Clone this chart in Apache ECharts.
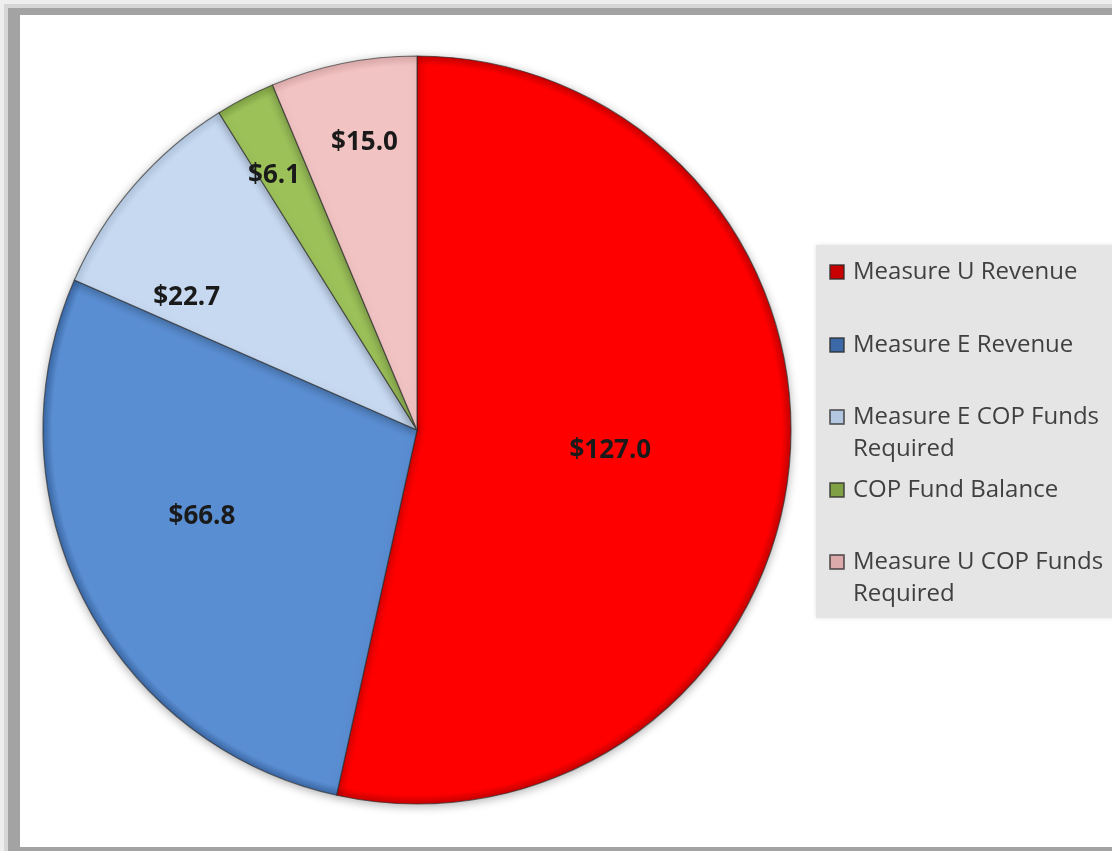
<!DOCTYPE html>
<html>
<head>
<meta charset="utf-8">
<script src="https://cdn.jsdelivr.net/npm/echarts@6/dist/echarts.min.js"></script>
<style>
html,body{margin:0;padding:0;background:#ffffff;}
#chart{width:1112px;height:851px;}
</style>
</head>
<body>
<div id="chart"></div>
<script>
// ---- data ----
var categories = ['Measure U Revenue', 'Measure E Revenue', 'Measure E COP Funds Required', 'COP Fund Balance', 'Measure U COP Funds Required'];
var values = [127.0, 66.8, 22.7, 6.1, 15.0];
var valueLabels = ['$127.0', '$66.8', '$22.7', '$6.1', '$15.0'];
var legendLabels = ['Measure U Revenue', 'Measure E Revenue', 'Measure E COP Funds\nRequired', 'COP Fund Balance', 'Measure U COP Funds\nRequired'];

// ---- style / layout ----
var colors = ['#ff0000', '#5a8ed2', '#c6d9f1', '#9cc159', '#f2c3c3'];
var rimColors = ['#c80000', '#3b68a6', '#b3c7e0', '#7fa044', '#dcaaaa'];
var CX = 417, CY = 430, R = 374;
var labelRadius = [0.52, 0.62, 0.71, 0.78, 0.78];
var labelAngleShift = [0, -5, 11, 2, -1];   // degrees, counter-clockwise
var legendCenters = [272, 345, 417, 490, 562];
var LINE_H = 32;

var chart = echarts.init(document.getElementById('chart'), null, {renderer: 'canvas'});

var legends = categories.map(function (name, i) {
  var wrapped = legendLabels[i].indexOf('\n') >= 0;
  var lines = wrapped ? 3 : 1;   // a blank first line keeps the icon on line one
  return {
    orient: 'vertical',
    left: 829,
    top: legendCenters[i] - lines * LINE_H / 2,
    padding: 0,
    itemWidth: 14,
    itemHeight: 14,
    icon: 'rect',
    selectedMode: false,
    formatter: function (n) {
      var t = legendLabels[categories.indexOf(n)];
      return t.indexOf('\n') >= 0 ? '\n' + t : t;
    },
    textStyle: {
      fontFamily: 'Open Sans',
      fontSize: 24,
      color: '#404040',
      lineHeight: LINE_H,
      padding: [0, 0, 0, 4]
    },
    data: [{name: name}]
  };
});

function sliceColor(i) {
  return {
    type: 'radial', x: CX, y: CY, r: R, global: true,
    colorStops: [
      {offset: 0, color: colors[i]},
      {offset: 0.975, color: colors[i]},
      {offset: 1, color: rimColors[i]}
    ]
  };
}

var option = {
  animation: false,
  backgroundColor: '#ffffff',
  graphic: [
    {type: 'rect', shape: {x: 0, y: 0, width: 1112, height: 851}, style: {fill: '#eeeeee'}, z: -10},
    {type: 'rect', shape: {x: 4, y: 4, width: 1108, height: 847}, style: {fill: '#d6d6d6'}, z: -10},
    {type: 'rect', shape: {x: 8, y: 8, width: 1104, height: 843}, style: {fill: '#a3a3a3'}, z: -10},
    {type: 'rect', shape: {x: 20, y: 15, width: 1092, height: 832}, style: {fill: '#ffffff'}, z: -10},
    {type: 'rect', shape: {x: 816, y: 245, width: 300, height: 373}, style: {fill: '#e5e5e5', shadowBlur: 4, shadowColor: 'rgba(0,0,0,0.12)'}, z: -5}
  ],
  legend: legends,
  series: [{
    type: 'pie',
    center: [CX, CY],
    radius: [0, R],
    startAngle: 90,
    clockwise: true,
    avoidLabelOverlap: false,
    itemStyle: {
      borderColor: 'rgba(45,45,45,0.65)',
      borderWidth: 1.2,
      shadowBlur: 10,
      shadowColor: 'rgba(0,0,0,0.3)',
      shadowOffsetY: 2
    },
    label: {
      show: true,
      position: 'inside',
      formatter: function (p) { return valueLabels[p.dataIndex]; },
      fontFamily: 'Open Sans',
      fontWeight: 'bold',
      fontSize: 26,
      color: '#1a1a1a'
    },
    labelLine: {show: false},
    labelLayout: function (p) {
      var lr = p.labelRect;
      var lx = lr.x + lr.width / 2, ly = lr.y + lr.height / 2;
      var ang = Math.atan2(-(ly - CY), lx - CX) + labelAngleShift[p.dataIndex] * Math.PI / 180;
      var rr = labelRadius[p.dataIndex] * R;
      var nx = CX + rr * Math.cos(ang), ny = CY - rr * Math.sin(ang);
      return {dx: nx - lx, dy: ny - ly};
    },
    emphasis: {disabled: true},
    data: categories.map(function (c, i) {
      return {name: c, value: values[i], itemStyle: {color: sliceColor(i)}};
    })
  }]
};
chart.setOption(option);
</script>
</body>
</html>
